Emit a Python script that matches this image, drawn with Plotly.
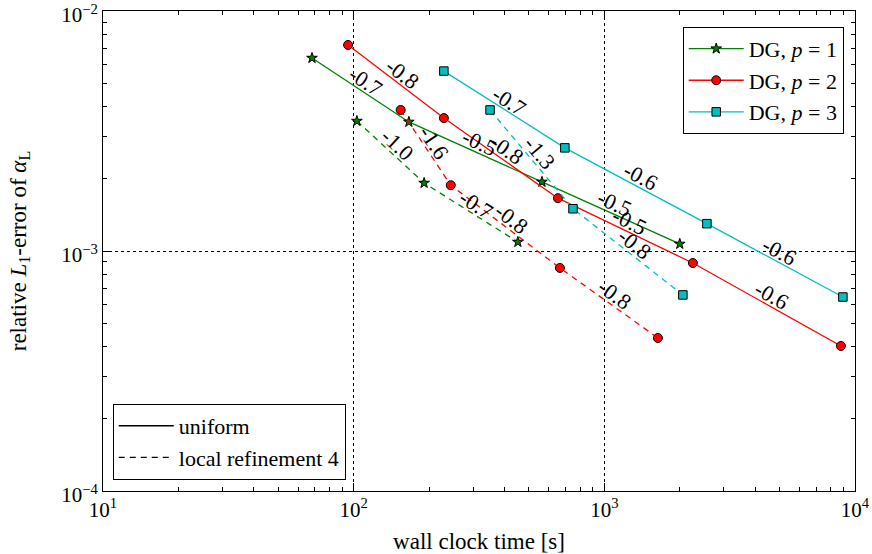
import math
import plotly.graph_objects as go

# ---- data ----
g_uni_t = [68.2, 166.0, 564.0, 2000.0]
g_uni_e = [6.37e-3, 3.45e-3, 1.94e-3, 1.07e-3]
g_uni_lbl = ["-0.7", "-0.5", "-0.5"]

g_loc_t = [103.0, 191.0, 452.0]
g_loc_e = [3.48e-3, 1.92e-3, 1.09e-3]
g_loc_lbl = ["-1.0", "-0.7"]

r_uni_t = [95.0, 229.0, 653.0, 2256.0, 8790.0]
r_uni_e = [7.22e-3, 3.58e-3, 1.66e-3, 8.91e-4, 4.02e-4]
r_uni_lbl = ["-0.8", "-0.8", "-0.5", "-0.6"]

r_loc_t = [154.0, 244.0, 665.0, 1636.0]
r_loc_e = [3.87e-3, 1.88e-3, 8.50e-4, 4.34e-4]
r_loc_lbl = ["-1.6", "-0.8", "-0.8"]

c_uni_t = [229.0, 696.0, 2566.0, 8950.0]
c_uni_e = [5.62e-3, 2.69e-3, 1.30e-3, 6.43e-4]
c_uni_lbl = ["-0.7", "-0.6", "-0.6"]

c_loc_t = [350.0, 750.0, 2058.0]
c_loc_e = [3.87e-3, 1.50e-3, 6.56e-4]
c_loc_lbl = ["-1.3", "-0.8"]

x_ticks = [10, 100, 1000, 10000]
x_ticktext = ["10<sup>1</sup>", "10<sup>2</sup>", "10<sup>3</sup>", "10<sup>4</sup>"]
y_ticks = [1e-4, 1e-3, 1e-2]
y_ticktext = ["10<sup>−4</sup>", "10<sup>−3</sup>", "10<sup>−2</sup>"]

# ---- layout constants ----
W, H = 872, 554
ML, MR, MT, MB = 103, 17, 11, 63
PW, PH = W - ML - MR, H - MT - MB
XDEC, YDEC = 3.0, 2.0
PXX, PXY = PW / XDEC, PH / YDEC
FONT = "Liberation Serif, DejaVu Serif, serif"
FS_TICK = 21
FS_TITLE = 23
FS_LEG = 22
FS_LBL = 22

GREEN, RED, CYAN = "#008000", "#ff0000", "#00bfbf"
DASH = "6px,5px"

fig = go.Figure()

series = [
    (g_uni_t, g_uni_e, g_uni_lbl, GREEN, "star", 8, "solid", "DG, <i>p</i> = 1", True),
    (r_uni_t, r_uni_e, r_uni_lbl, RED, "circle", 9, "solid", "DG, <i>p</i> = 2", True),
    (c_uni_t, c_uni_e, c_uni_lbl, CYAN, "square", 8.5, "solid", "DG, <i>p</i> = 3", True),
    (g_loc_t, g_loc_e, g_loc_lbl, GREEN, "star", 8, DASH, "", False),
    (r_loc_t, r_loc_e, r_loc_lbl, RED, "circle", 9, DASH, "", False),
    (c_loc_t, c_loc_e, c_loc_lbl, CYAN, "square", 8.5, DASH, "", False),
]

annotations = []
for t, e, lbl, col, sym, sz, dash, name, show in series:
    fig.add_trace(go.Scatter(
        x=t, y=e, mode="lines+markers", name=name, showlegend=show,
        legend="legend",
        line=dict(color=col, width=1.3, dash=dash),
        marker=dict(symbol=sym, size=sz, color=col, line=dict(color="black", width=1)),
    ))
    for i in range(len(t) - 1):
        lx0, lx1 = math.log10(t[i]), math.log10(t[i + 1])
        ly0, ly1 = math.log10(e[i]), math.log10(e[i + 1])
        dx = (lx1 - lx0) * PXX
        dy = -(ly1 - ly0) * PXY
        th = math.atan2(dy, dx)
        off = 10
        annotations.append(dict(
            x=(lx0 + lx1) / 2, y=(ly0 + ly1) / 2, xref="x", yref="y",
            text=lbl[i], showarrow=False, textangle=math.degrees(th),
            xshift=off * math.sin(th), yshift=off * math.cos(th),
            font=dict(family=FONT, size=FS_LBL, color="black"),
        ))

# second legend entries (line styles)
fig.add_trace(go.Scatter(x=[None], y=[None], mode="lines", name="uniform",
                         line=dict(color="black", width=1.3), legend="legend2"))
fig.add_trace(go.Scatter(x=[None], y=[None], mode="lines", name="local refinement 4",
                         line=dict(color="black", width=1.3, dash=DASH), legend="legend2"))


def fnt(s):
    return dict(family=FONT, size=s, color="black")


def axis(rng, tv, tt, title, standoff, shift):
    return dict(
        type="log", range=rng, tickvals=tv, ticktext=tt, automargin=False,
        ticklabeloverflow="allow", ticklabelshift=shift,
        showline=True, linecolor="black", linewidth=1, mirror="allticks",
        ticks="inside", ticklen=8, tickcolor="black",
        showgrid=True, gridcolor="black", griddash="dot", gridwidth=1,
        zeroline=False,
        minor=dict(ticks="inside", ticklen=4, tickcolor="black", showgrid=False, dtick="D1"),
        tickfont=fnt(FS_TICK),
        title=dict(text=title, font=fnt(FS_TITLE), standoff=standoff),
    )


fig.update_layout(
    width=W, height=H,
    margin=dict(l=ML, r=MR, t=MT, b=MB),
    plot_bgcolor="white", paper_bgcolor="white",
    font=dict(family=FONT, color="black", size=FS_TICK),
    xaxis=axis([0.9999, 4.0001], x_ticks, x_ticktext, "wall clock time [s]", 11, 0),
    yaxis=axis([-4.0001, -1.9999], y_ticks, y_ticktext,
               "relative <i>L</i><sub>1</sub>-error of <i>α</i><sub>L</sub>", 28, 4),
    legend=dict(x=0.985, y=0.967, xanchor="right", yanchor="top",
                bordercolor="black", borderwidth=1, bgcolor="white",
                font=fnt(FS_LEG), itemwidth=55),
    legend2=dict(x=0.013, y=0.023, xanchor="left", yanchor="bottom",
                 bordercolor="black", borderwidth=1, bgcolor="white",
                 font=fnt(FS_LEG), itemwidth=55),
    annotations=annotations,
)

fig.write_html("out.html", config={"displayModeBar": False},
               post_script="document.body.style.margin='0';")
